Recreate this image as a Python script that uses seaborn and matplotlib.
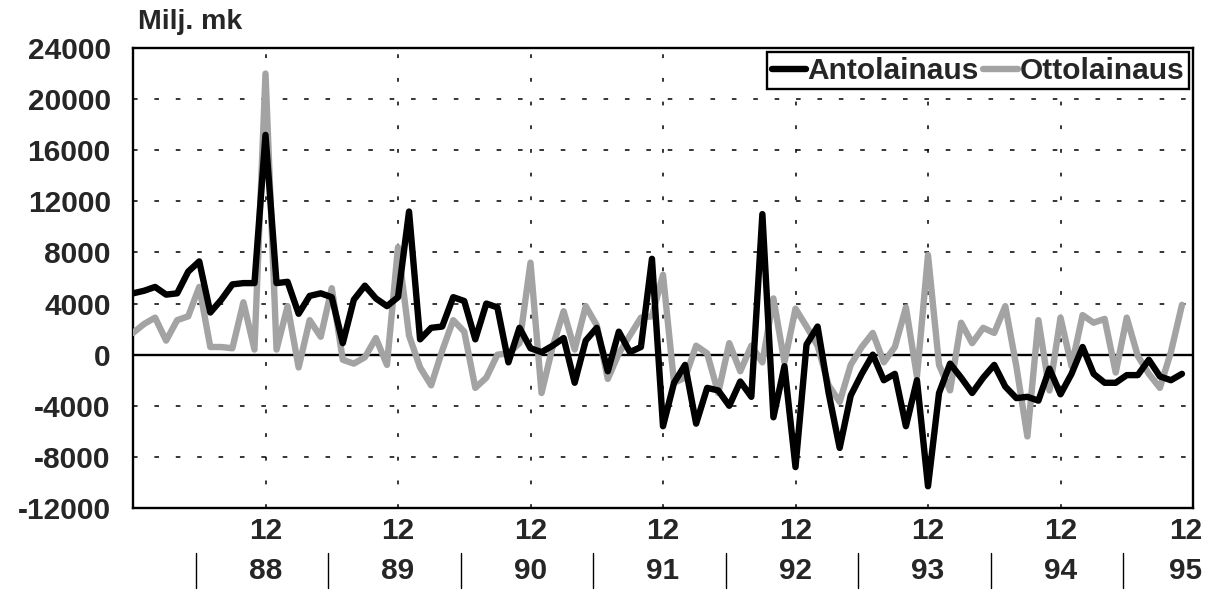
import numpy as np
import pandas as pd
import seaborn as sns
import matplotlib.pyplot as plt
from matplotlib.lines import Line2D
from matplotlib.transforms import blended_transform_factory

# Monthly net flows, Milj. mk, Dec 1987 .. Nov 1995
START_MONTH = "1987-12"

ANTOLAINAUS = [
    4800, 5000, 5300, 4700, 4800, 6500, 7300, 3300, 4300, 5500, 5600, 5600,
    17200, 5600, 5700, 3200, 4600, 4800, 4500, 900, 4300, 5400, 4400, 3800,
    4500, 11200, 1200, 2100, 2200, 4500, 4200, 1200, 4000, 3700, -600, 2100,
    500, 200, 700, 1300, -2200, 1100, 2100, -1300, 1800, 200, 600, 7500,
    -5600, -2200, -800, -5400, -2600, -2800, -4000, -2100, -3300, 11000, -4900, -900,
    -8800, 800, 2200, -3000, -7300, -3200, -1500, 0, -2000, -1500, -5600, -2000,
    -10300, -3000, -700, -1800, -3000, -1800, -800, -2500, -3400, -3300, -3600, -1100,
    -3100, -1500, 600, -1500, -2200, -2200, -1600, -1600, -400, -1700, -2000, -1500,
]

OTTOLAINAUS = [
    1700, 2400, 2900, 1100, 2700, 3000, 5300, 600, 600, 500, 4100, 400,
    22000, 400, 3800, -1000, 2700, 1400, 5200, -400, -700, -200, 1300, -800,
    8400, 1500, -1000, -2400, 300, 2700, 1800, -2600, -1800, 0, 100, 900,
    7200, -3000, 600, 3400, 400, 3800, 2300, -1900, 100, 1500, 2900, 3000,
    6250, -2200, -1800, 700, 100, -3000, 900, -1300, 700, -600, 4400, -600,
    3600, 2200, 700, -2400, -3700, -800, 600, 1700, -600, 600, 3700, -1700,
    7800, -800, -2800, 2500, 900, 2100, 1700, 3800, -900, -6400, 2700, -2800,
    2900, -900, 3100, 2500, 2800, -1400, 2900, -100, -1500, -2600, 200, 3900,
]

Y_TICKS = list(range(-12000, 24001, 4000))
MONTH_LABEL = "12"
YEAR_LABELS = ["88", "89", "90", "91", "92", "93", "94", "95"]
COLORS = {"Antolainaus": "black", "Ottolainaus": "#a3a3a3"}
FS = 21.5

sns.set_style("white")
plt.rcParams["font.family"] = ["Liberation Sans", "DejaVu Sans"]
plt.rcParams["font.weight"] = "bold"

months = pd.period_range(START_MONTH, periods=len(ANTOLAINAUS), freq="M")
df = pd.DataFrame({"kk": np.arange(len(months)),
                   "Antolainaus": ANTOLAINAUS,
                   "Ottolainaus": OTTOLAINAUS})
long = df.melt(id_vars="kk", var_name="sarja", value_name="milj")

fig = plt.figure(figsize=(12.21, 5.95), dpi=100)
ax = fig.add_axes([133 / 1221, 1 - 508 / 595, 1060 / 1221, 460 / 595])

# grid first so the series sit on top
dec_pos = [i for i, m in enumerate(months) if m.month == 12 and i > 0] + [len(months)]
for y in Y_TICKS[1:-1]:
    if y == 0:
        continue
    ax.axhline(y, color="black", lw=1.1, ls=(0, (3, 11)), zorder=1)
for x in dec_pos[:-1]:
    ax.axvline(x, color="black", lw=1.1, ls=(0, (2.5, 13)), zorder=1)
ax.axhline(0, color="black", lw=1.7, zorder=2)

sns.lineplot(data=long, x="kk", y="milj", hue="sarja",
             hue_order=["Ottolainaus", "Antolainaus"], palette=COLORS,
             linewidth=4.6, legend=False, ax=ax,
             solid_joinstyle="round", solid_capstyle="round", zorder=3)

ax.set_xlim(0, len(months))
ax.set_ylim(Y_TICKS[0], Y_TICKS[-1])
ax.set_yticks(Y_TICKS)
ax.set_yticklabels([str(v) for v in Y_TICKS], fontsize=FS, fontweight="bold")
ax.tick_params(axis="y", length=0, pad=16)
ax.set_xticks(dec_pos)
ax.set_xticklabels([])
ax.tick_params(axis="x", direction="in", length=4, width=1, color="black")
ax.set_xlabel("")
ax.set_ylabel("")
for s in ax.spines.values():
    s.set_visible(True)
    s.set_color("black")
    s.set_linewidth(1.7)

# two-row category labels below the axis
tr = blended_transform_factory(ax.transData, fig.transFigure)
for x, yr in zip(dec_pos, YEAR_LABELS):
    xp = min(x, len(months) - 0.7)
    ax.text(xp, 1 - 531 / 595, MONTH_LABEL, transform=tr, ha="center",
            va="center", fontsize=FS, fontweight="bold", clip_on=False)
    ax.text(xp, 1 - 571 / 595, yr, transform=tr, ha="center",
            va="center", fontsize=FS, fontweight="bold", clip_on=False)
    sep = x - 6.3
    ax.add_line(Line2D([sep, sep], [1 - 553 / 595, 1 - 588 / 595],
                       transform=tr, color="black", lw=1, clip_on=False))

fig.text(138 / 1221, 1 - 22 / 595, "Milj. mk", ha="left", va="center",
         fontsize=FS - 1, fontweight="bold")

handles = [Line2D([], [], color=COLORS["Antolainaus"], lw=4.6, solid_capstyle="round"),
           Line2D([], [], color=COLORS["Ottolainaus"], lw=4.6, solid_capstyle="round")]
leg = ax.legend(handles, ["Antolainaus", "Ottolainaus"], loc="upper right",
                ncol=2, frameon=True, fancybox=False,
                handlelength=1.15, handletextpad=0.05, columnspacing=0.15,
                borderpad=0.15, borderaxespad=0.15,
                prop={"weight": "bold", "size": FS})
leg.get_frame().set_edgecolor("black")
leg.get_frame().set_linewidth(1.7)
leg.get_frame().set_alpha(1)
leg.set_zorder(5)

fig.savefig("out.png", dpi=100)
